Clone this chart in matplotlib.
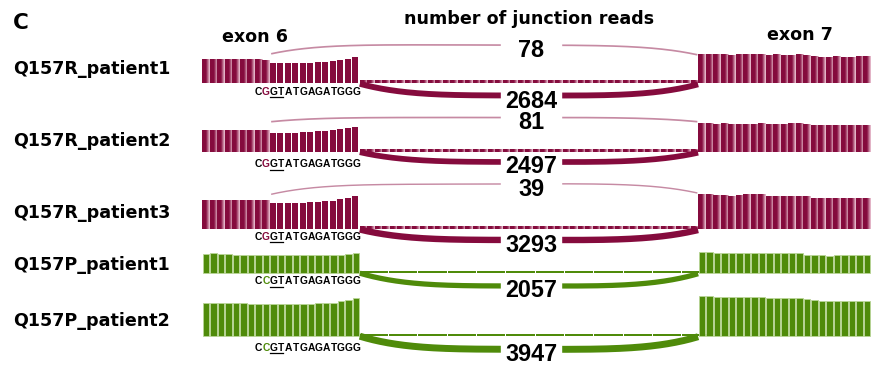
import numpy as np
import matplotlib
matplotlib.use("Agg")
import matplotlib.pyplot as plt
from matplotlib.colors import LinearSegmentedColormap
from matplotlib.patches import Rectangle

# ---------------- data ----------------
samples = ["Q157R_patient1", "Q157R_patient2", "Q157R_patient3",
           "Q157P_patient1", "Q157P_patient2"]
variants = ["R", "R", "R", "P", "P"]
sequences = {"R": "CGGTATGAGATGGG", "P": "CCGTATGAGATGGG"}
cryptic_reads = [78, 81, 39, None, None]       # exon6 cryptic donor -> exon7
canonical_reads = [2684, 2497, 3293, 2057, 3947]  # exon6 -> exon7

# per-nucleotide coverage (relative units)
exon6_cov = [
    [23.3]*8 + [22.8] + [20.5, 20.5, 20.5, 20.5, 20.5, 20.5, 21.0, 21.5, 22.5, 23.0, 24.0, 26.5],
    [21.7]*9 + [19.0, 19.0, 19.0, 19.0, 19.7, 19.7, 20.3, 21.0, 21.7, 23.0, 23.7, 25.0],
    [29.0]*9 + [26.3, 26.3, 26.3, 26.3, 26.3, 27.0, 27.0, 27.7, 28.3, 29.7, 31.0, 33.0],
    [18.7, 19.4, 18.7, 18.7, 18.0, 18.0, 18.0, 18.0, 18.0, 18.0, 18.0, 18.0, 18.0, 18.0,
     18.0, 18.0, 18.0, 18.0, 18.0, 18.7, 19.4],
    [33.0, 33.0, 33.0, 33.0, 33.0, 32.4, 31.7, 31.7, 31.7, 31.7, 31.7, 31.7, 31.7, 31.7,
     31.7, 32.4, 32.4, 33.0, 34.4, 35.7, 37.4],
]
exon7_cov = [
    [28.3, 28.3, 28.3, 28.3, 27.3, 28.3, 28.3, 28.3, 28.3, 27.3, 28.3, 27.3, 27.3, 28.3,
     27.3, 26.7, 25.6, 25.6, 26.7, 25.6, 25.6, 26.7, 26.7],
    [29.0, 29.0, 27.7, 29.0, 27.7, 27.7, 27.7, 27.7, 29.0, 27.7, 27.7, 27.7, 29.0, 29.0,
     27.7, 26.7, 26.7, 26.7, 26.7, 26.7, 26.7, 26.7, 26.7],
    [35.0, 35.0, 34.0, 34.0, 33.0, 34.0, 35.0, 35.0, 35.0, 33.0, 33.0, 33.0, 33.0, 33.0,
     32.3, 30.7, 30.7, 30.7, 30.7, 30.7, 30.7, 30.7, 30.7],
    [20.4, 20.4, 19.4, 19.4, 19.4, 19.4, 20.0, 20.0, 20.0, 19.4, 19.4, 19.4, 19.4, 19.4,
     17.4, 17.4, 17.4, 16.7, 18.0, 17.4, 17.4, 18.0, 17.4],
    [39.7, 39.7, 39.0, 39.0, 38.4, 38.4, 38.4, 38.4, 38.4, 37.7, 37.7, 37.7, 37.7, 37.7,
     36.4, 35.7, 35.0, 34.4, 35.0, 34.4, 34.4, 35.0, 35.0],
]
intron_cov_R = 2.2
intron_cov_P = 1.5

# ---------------- layout / style ----------------
W, H = 883, 369
EX6, INTRON, EX7 = 21, 45, 23
TOTAL = EX6 + INTRON + EX7
CRYPTIC = 9          # position of cryptic GT donor in exon 6
SEQ_START = 7
X_LEFT, X_RIGHT = 202, 871
baselines = [83.3, 151.7, 229.0, 272.7, 335.7]
top_arc = [(29.5, 38.3, 28.5), (30.0, 34.2, 30.0), (34.7, 45.0, 36.0), None, None]
bot_arc_depth = [12.2, 10.3, 11.0, 13.3, 13.6]
top_lab = [48.3, 121.0, 187.7, None, None]
bot_lab = [100.0, 165.0, 243.3, 288.3, 352.3]
seq_base = [95.0, 167.3, 240.0, 284.3, 351.0]
label_base = [73.5, 145.5, 217.5, 270.5, 326.0]

MAROON = "#850B3D"
MAROON_LIGHT = "#EEC8D7"
MAROON_ARC = "#C68AA3"
GREEN = "#4F8B0A"
GREEN_EDGE = "#B9D596"
grad_cmap = LinearSegmentedColormap.from_list("g", [MAROON, MAROON, MAROON_LIGHT])
grad = np.linspace(0, 1, 32).reshape(1, -1)

NUM_FONT = dict(family="Liberation Sans", weight="bold", fontsize=16.8)
LAB_FONT = dict(family="DejaVu Sans", weight="bold", fontsize=12.6)

fig = plt.figure(figsize=(W / 100, H / 100), dpi=100)


def ftext(x, y, s, **kw):
    fig.text(x / W, 1 - y / H, s, **kw)


def arc(ax, x0, x1, y0, y1, peak, n, lw, color, z=2):
    t = np.linspace(0, 1, 300)
    base = y0 + (y1 - y0) * t
    mid = (y0 + y1) / 2
    f = 1 - np.abs(2 * t - 1) ** n
    ax.plot(x0 + (x1 - x0) * t, base + (peak - mid) * f, color=color, lw=lw,
            solid_capstyle="butt", clip_on=False, zorder=z)


def gbar(ax, x0, h, w=1.0, z=2):
    ax.imshow(grad, extent=(x0, x0 + w, 0, h), cmap=grad_cmap, aspect="auto",
              interpolation="bilinear", zorder=z, clip_on=False)


for r in range(5):
    Y0 = baselines[r]
    top_px, bot_px = Y0 - 60, Y0 + 30
    ax = fig.add_axes([X_LEFT / W, 1 - bot_px / H, (X_RIGHT - X_LEFT) / W, (bot_px - top_px) / H])
    ax.axis("off")
    var = variants[r]
    e6 = exon6_cov[r]
    e7 = exon7_cov[r]
    x7 = EX6 + INTRON
    if var == "R":
        for i, h in enumerate(e6):
            if i < CRYPTIC:
                gbar(ax, i, h)
        ax.bar(np.arange(CRYPTIC, EX6), e6[CRYPTIC:], width=0.8, align="edge",
               color=MAROON, zorder=2)
        for i, h in enumerate(e7):
            gbar(ax, x7 + i, h)
        for i in range(INTRON):
            gbar(ax, EX6 + i, intron_cov_R, w=0.95, z=1)
        col, arc_col = MAROON, MAROON_ARC
    else:
        ax.bar(np.arange(EX6) + 0.07, e6, width=0.86, align="edge", color=GREEN,
               edgecolor=GREEN_EDGE, linewidth=0.6, zorder=2)
        ax.bar(x7 + np.arange(EX7) + 0.07, e7, width=0.86, align="edge", color=GREEN,
               edgecolor=GREEN_EDGE, linewidth=0.6, zorder=2)
        chunks = np.arange(EX6, x7, 3.9)
        ax.bar(chunks, [intron_cov_P] * len(chunks), width=3.75, align="edge",
               color=GREEN, zorder=1)
        col, arc_col = GREEN, None

    # canonical junction arc (below)
    cnt = canonical_reads[r]
    lw = 0.6 + 0.07 * np.sqrt(cnt)
    arc(ax, EX6, x7, -0.5, -1.0, -bot_arc_depth[r], 4, lw, col)
    yc = Y0 - bot_lab[r]
    ax.add_patch(Rectangle((39.8, yc - 9.5), 8.0, 19, color="white", zorder=3, clip_on=False))
    ax.text(43.8, yc - 8.4, str(cnt), ha="center", va="baseline", zorder=4, **NUM_FONT)

    # cryptic junction arc (above)
    if cryptic_reads[r] is not None:
        s0, pk, s1 = top_arc[r]
        c = cryptic_reads[r]
        arc(ax, CRYPTIC + 0.2, x7 - 0.1, s0, s1, pk, 5, 0.6 + 0.07 * np.sqrt(c), arc_col)
        yc = Y0 - top_lab[r]
        ax.add_patch(Rectangle((39.8, yc - 9.5), 8.0, 19, color="white", zorder=3, clip_on=False))
        ax.text(43.8, yc - 8.4, str(c), ha="center", va="baseline", zorder=4, **NUM_FONT)

    # sequence under exon 6
    seq = sequences[var]
    ys = Y0 - seq_base[r]
    for k, ch in enumerate(seq):
        ax.text(SEQ_START + k + 0.5, ys, ch, ha="center", va="baseline",
                family="Liberation Sans", weight="bold", fontsize=7.4,
                color=(col if k == 1 else "black"), zorder=4)
    ax.plot([CRYPTIC + 0.05, CRYPTIC + 1.8], [ys - 2.2, ys - 2.2], color="black",
            lw=0.9, clip_on=False, zorder=4)

    ax.set_xlim(0, TOTAL)
    ax.set_ylim(Y0 - bot_px, Y0 - top_px)

    ftext(13, label_base[r], samples[r], ha="left", va="baseline", **LAB_FONT)

ftext(13, 29, "C", ha="left", va="baseline", family="DejaVu Sans", weight="bold", fontsize=15.5)
ftext(529, 24, "number of junction reads", ha="center", va="baseline", **LAB_FONT)
ftext(222, 42.5, "exon 6", ha="left", va="baseline", **LAB_FONT)
ftext(767, 40.5, "exon 7", ha="left", va="baseline", **LAB_FONT)

fig.savefig("out.png", dpi=100, facecolor="white")
